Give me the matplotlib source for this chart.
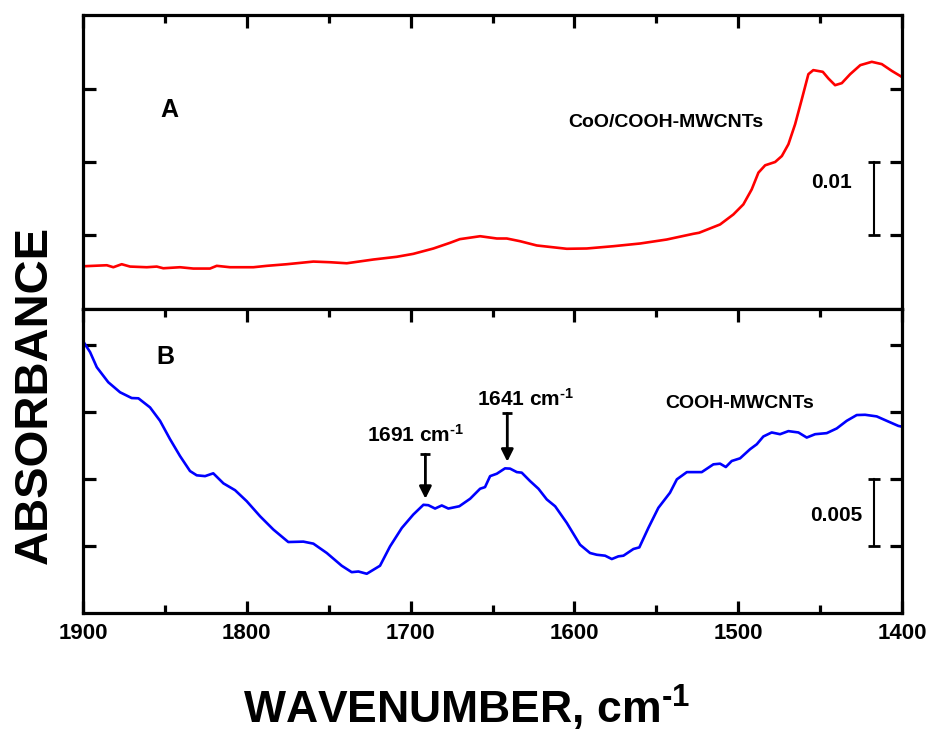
import matplotlib
matplotlib.use('Agg')
from matplotlib import pyplot as plt
from matplotlib.ticker import MultipleLocator, FixedLocator, NullFormatter

# CoO/COOH-MWCNTs spectrum (panel A)
wn_a = [1900, 1885.5, 1881.5, 1876.4, 1871.3, 1861.1, 1855.0, 1851.0, 1840.8, 1832.7,
        1822.5, 1818.4, 1810.3, 1796.0, 1787.8, 1775.6, 1759.4, 1749.2, 1739.0, 1722.8,
        1708.5, 1698.4, 1686.1, 1676.0, 1670.0, 1657.6, 1647.4, 1641.3, 1633.2, 1623.0,
        1604.7, 1592.5, 1576.3, 1559.9, 1543.7, 1527.4, 1523.9, 1511.1, 1503.0, 1496.9,
        1491.8, 1487.7, 1483.6, 1477.5, 1473.4, 1469.4, 1465.3, 1461.2, 1457.2, 1454.2,
        1448.4, 1445.0, 1440.9, 1436.8, 1431.7, 1425.5, 1418.5, 1412.4, 1406.3, 1401.2,
        1400]
abs_a = [0.00581, 0.00595, 0.00568, 0.00609, 0.00577, 0.00568, 0.00577, 0.00554, 0.00568, 0.00550,
         0.00550, 0.00587, 0.00568, 0.00568, 0.00587, 0.00609, 0.00645, 0.00636, 0.00622, 0.00673,
         0.00710, 0.00750, 0.00823, 0.00900, 0.00950, 0.00990, 0.00959, 0.00959, 0.00922, 0.00864,
         0.00819, 0.00823, 0.00854, 0.00891, 0.00945, 0.01023, 0.01037, 0.01150, 0.01286, 0.01423,
         0.01627, 0.01855, 0.01955, 0.02000, 0.02081, 0.02241, 0.02514, 0.02855, 0.03195, 0.03250,
         0.03227, 0.03137, 0.03045, 0.03073, 0.03195, 0.03318, 0.03363, 0.03332, 0.03240, 0.03172,
         0.03155]

# COOH-MWCNTs spectrum (panel B)
wn_b = [1900, 1895.7, 1891.6, 1884.6, 1877.4, 1870.3, 1866.2, 1859.1, 1853.0, 1846.9,
        1840.8, 1834.7, 1830.6, 1825.5, 1820.5, 1814.3, 1807.2, 1800.1, 1791.9, 1783.8,
        1774.7, 1765.5, 1759.4, 1751.2, 1742.1, 1736.0, 1731.9, 1726.8, 1718.7, 1712.6,
        1705.4, 1698.4, 1692.2, 1689.2, 1685.1, 1681.0, 1677.0, 1670.3, 1663.7, 1657.6,
        1654.6, 1651.5, 1647.4, 1642.4, 1639.3, 1635.2, 1632.2, 1627.1, 1622.0, 1616.9,
        1611.8, 1604.7, 1596.6, 1590.5, 1586.4, 1581.3, 1577.2, 1573.2, 1570.1, 1564.0,
        1560.4, 1554.9, 1548.8, 1541.7, 1537.5, 1531.4, 1522.3, 1515.2, 1511.1, 1507.6,
        1504.0, 1498.9, 1492.8, 1488.7, 1484.7, 1479.6, 1474.5, 1469.4, 1463.3, 1458.2,
        1453.1, 1446.0, 1439.9, 1433.8, 1427.7, 1422.6, 1415.5, 1409.4, 1402.3, 1400]
abs_b = [0.02030, 0.01948, 0.01835, 0.01723, 0.01648, 0.01605, 0.01603, 0.01535, 0.01435, 0.01298,
         0.01172, 0.01060, 0.01028, 0.01022, 0.01043, 0.00968, 0.00917, 0.00835, 0.00722, 0.00623,
         0.00530, 0.00533, 0.00518, 0.00448, 0.00353, 0.00305, 0.00310, 0.00293, 0.00353, 0.00497,
         0.00635, 0.00735, 0.00808, 0.00805, 0.00780, 0.00803, 0.00780, 0.00797, 0.00853, 0.00928,
         0.00940, 0.01022, 0.01040, 0.01080, 0.01078, 0.01052, 0.01048, 0.00985, 0.00928, 0.00848,
         0.00797, 0.00673, 0.00510, 0.00448, 0.00435, 0.00428, 0.00403, 0.00423, 0.00428, 0.00478,
         0.00490, 0.00635, 0.00785, 0.00898, 0.00998, 0.01052, 0.01052, 0.01110, 0.01115, 0.01090,
         0.01135, 0.01155, 0.01223, 0.01260, 0.01318, 0.01348, 0.01335, 0.01358, 0.01348, 0.01310,
         0.01335, 0.01343, 0.01378, 0.01435, 0.01478, 0.01480, 0.01468, 0.01435, 0.01397, 0.01391]

# marked bands in panel B
peak_wn = [1691, 1641]
peak_tip = [0.00853, 0.0113]
peak_tail = [0.01185, 0.0149]
peak_label_xy = [(1697, 0.0128), (1630, 0.01545)]

plt.rcParams['font.family'] = ['Liberation Sans', 'DejaVu Sans']
plt.rcParams['font.weight'] = 'bold'
plt.rcParams['mathtext.fontset'] = 'custom'
plt.rcParams['mathtext.rm'] = 'Liberation Sans:bold'
plt.rcParams['mathtext.bf'] = 'Liberation Sans:bold'
plt.rcParams['mathtext.default'] = 'bf'
plt.rcParams['axes.linewidth'] = 2.3
plt.rcParams['xtick.direction'] = 'in'
plt.rcParams['ytick.direction'] = 'in'
plt.rcParams['xtick.major.size'] = 9
plt.rcParams['xtick.minor.size'] = 5.5
plt.rcParams['ytick.major.size'] = 9
plt.rcParams['xtick.major.width'] = 2.3
plt.rcParams['xtick.minor.width'] = 2.3
plt.rcParams['ytick.major.width'] = 2.3
plt.rcParams['xtick.labelsize'] = 16
plt.rcParams['xtick.major.pad'] = 7

fig = plt.figure(figsize=(9.32, 7.36), dpi=100)
ax_a = fig.add_axes([0.0891, 0.5802, 0.8788, 0.3994])
ax_b = fig.add_axes([0.0891, 0.1671, 0.8788, 0.4131])

for ax in (ax_a, ax_b):
    ax.set_xlim(1900, 1400)
    ax.xaxis.set_major_locator(MultipleLocator(100))
    ax.xaxis.set_minor_locator(MultipleLocator(50))
    ax.tick_params(axis='y', left=True, right=True, labelleft=False)

ax_a.set_ylim(0, 0.04)
ax_a.yaxis.set_major_locator(FixedLocator([0.01, 0.02, 0.03]))
ax_a.tick_params(axis='x', which='both', top=True, bottom=False, labelbottom=False)
ax_a.plot(wn_a, abs_a, color='#ff0000', linewidth=1.9)
ax_a.text(1847, 0.0271, 'A', fontsize=18, ha='center', va='center')
ax_a.text(1544, 0.0254, 'CoO/COOH-MWCNTs', fontsize=14, ha='center', va='center')
ax_a.plot([1417, 1417], [0.01, 0.02], color='black', linewidth=1.5, marker='_', markersize=8,
          markeredgewidth=2)
ax_a.text(1443, 0.0172, '0.01', fontsize=15, ha='center', va='center')

ax_b.set_ylim(0, 0.0227)
ax_b.yaxis.set_major_locator(FixedLocator([0.005, 0.01, 0.015, 0.02]))
ax_b.tick_params(axis='x', which='both', top=True, bottom=True)
ax_b.xaxis.set_minor_formatter(NullFormatter())
ax_b.plot(wn_b, abs_b, color='#0000ff', linewidth=1.9)
ax_b.text(1850, 0.0191, 'B', fontsize=18, ha='center', va='center')
ax_b.text(1499, 0.01565, 'COOH-MWCNTs', fontsize=14, ha='center', va='center')
ax_b.plot([1417, 1417], [0.005, 0.01], color='black', linewidth=1.5, marker='_', markersize=8,
          markeredgewidth=2)
ax_b.text(1440, 0.0073, '0.005', fontsize=15, ha='center', va='center')

for wn, tip, tail, (lx, ly) in zip(peak_wn, peak_tip, peak_tail, peak_label_xy):
    ax_b.annotate('', xy=(wn, tip), xytext=(wn, tail),
                  arrowprops=dict(arrowstyle='-|>', color='black', linewidth=2,
                                  mutation_scale=18, shrinkA=0, shrinkB=0))
    ax_b.plot([wn], [tail], color='black', marker='_', markersize=7, markeredgewidth=2)
    ax_b.text(lx, ly, f'{wn} cm' + r'$^{\text{-1}}$', fontsize=15,
              ha='center', va='baseline')

fig.text(0.037, 0.463, 'ABSORBANCE', fontsize=34, rotation=90, ha='center', va='center')
fig.text(0.501, 0.038, 'WAVENUMBER, cm' + r'$^{\text{-1}}$', fontsize=32,
         ha='center', va='center')

fig.savefig('out.png', dpi=100)
